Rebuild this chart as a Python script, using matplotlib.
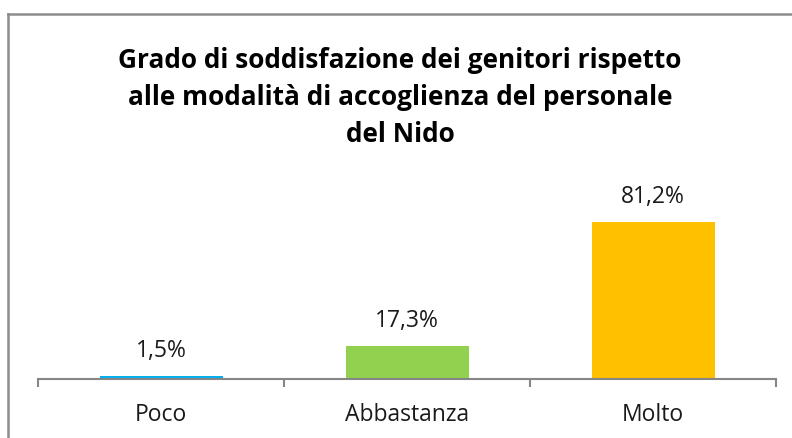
import matplotlib.pyplot as plt
from matplotlib.lines import Line2D

categories = ["Poco", "Abbastanza", "Molto"]
values = [1.5, 17.3, 81.2]
labels = ["1,5%", "17,3%", "81,2%"]
colors = ["#00B0F0", "#92D050", "#FFC000"]
title = "Grado di soddisfazione dei genitori rispetto\nalle modalità di accoglienza del personale\ndel Nido"

plt.rcParams['font.family'] = ['Open Sans', 'DejaVu Sans']

W, H = 792, 438
fig = plt.figure(figsize=(W / 100, H / 100), dpi=100)

# plot area in pixels
x0, x1 = 38, 776
yb, yt = 379, 205
ax = fig.add_axes([x0 / W, 1 - yb / H, (x1 - x0) / W, (yb - yt) / H])

xs = range(len(categories))
ax.bar(xs, values, width=0.5, color=colors)
ax.set_xlim(-0.5, 2.5)
ax.set_ylim(0, 90)

for i, v in enumerate(values):
    ax.annotate(labels[i], (i, v), xytext=(0, 13.5), textcoords="offset points",
                ha="center", va="baseline", fontsize=16.5, color="#1a1a1a")

for s in ["top", "right", "left"]:
    ax.spines[s].set_visible(False)
ax.spines["bottom"].set_color("#868686")
ax.spines["bottom"].set_linewidth(1.5)
ax.set_yticks([])
ax.set_xticks([-0.5, 0.5, 1.5, 2.5])
ax.set_xticklabels([])
ax.tick_params(axis="x", which="major", length=6, width=1.5, color="#868686")
ax.set_xticks(list(xs), minor=True)
ax.set_xticklabels(categories, minor=True, fontsize=16.5, color="#1a1a1a")
ax.tick_params(axis="x", which="minor", length=0, pad=17.5)

fig.text(400 / W, 1 - 46.5 / H, title, ha="center", va="top", fontsize=18.9,
         fontweight="bold", linespacing=1.5, color="#000000")

# chart border (only top and left visible)
fig.add_artist(Line2D([8 / W, 8 / W], [0, 1 - 14 / H], transform=fig.transFigure,
                      color="#8c8c8c", linewidth=1.8))
fig.add_artist(Line2D([8 / W, 1], [1 - 14 / H, 1 - 14 / H], transform=fig.transFigure,
                      color="#8c8c8c", linewidth=1.8))

fig.savefig("out.png", dpi=100)
